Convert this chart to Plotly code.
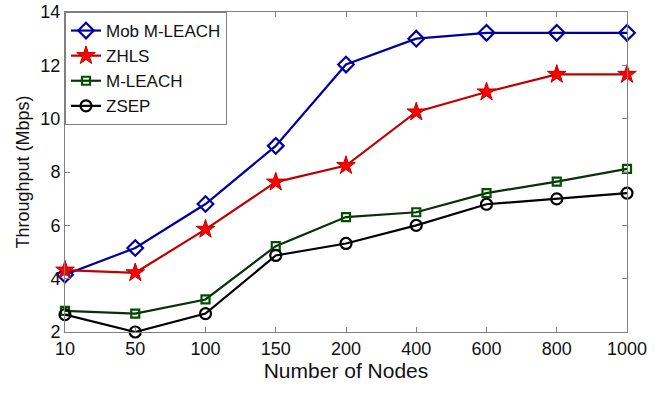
import plotly.graph_objects as go

nodes = ["10", "50", "100", "150", "200", "400", "600", "800", "1000"]
mob_mleach = [4.15, 5.15, 6.8, 8.98, 12.03, 13.0, 13.22, 13.22, 13.22]
zhls = [4.32, 4.22, 5.85, 7.62, 8.24, 10.25, 11.0, 11.66, 11.66]
mleach = [2.79, 2.69, 3.22, 5.22, 6.31, 6.49, 7.21, 7.64, 8.12]
zsep = [2.65, 2.0, 2.69, 4.87, 5.32, 6.0, 6.79, 6.99, 7.21]

xi = list(range(len(nodes)))

series = [
    ("Mob M-LEACH", mob_mleach, "#0000a0", "diamond-open", 12, "#0000a0", None),
    ("ZHLS", zhls, "#c00000", "star", 14, "#ff0000", "#c00000"),
    ("M-LEACH", mleach, "#0a300a", "square-open", 8, "#005000", None),
    ("ZSEP", zsep, "#000000", "circle-open", 11, "#000000", None),
]

fig = go.Figure()
for name, vals, lc, sym, size, mc, edge in series:
    marker = dict(symbol=sym, size=size, color=mc)
    if sym.endswith("-open"):
        marker["line"] = dict(width=2.2, color=mc)
    else:
        marker["line"] = dict(width=1, color=edge)
    fig.add_trace(go.Scatter(
        x=xi, y=vals, name=name, mode="lines+markers",
        line=dict(color=lc, width=2.2), marker=marker, cliponaxis=False,
    ))

axis_common = dict(
    showline=True, linecolor="#808080", linewidth=1, mirror="ticks",
    ticks="inside", ticklen=5, tickcolor="#808080", showgrid=False, zeroline=False,
    tickfont=dict(family="Liberation Sans, Arial", size=18, color="#111111"),
)

fig.update_layout(
    width=667, height=393,
    margin=dict(l=65, r=40, t=12, b=61, autoexpand=False),
    paper_bgcolor="white", plot_bgcolor="white",
    font=dict(family="Liberation Sans, Arial", size=18, color="#111111"),
    xaxis=dict(
        **axis_common,
        tickmode="array", tickvals=xi, ticktext=nodes,
        range=[0, len(nodes) - 1],
        title=dict(text="Number of Nodes", font=dict(size=21), standoff=2),
    ),
    yaxis=dict(
        **axis_common,
        range=[2, 14], tickvals=[2, 4, 6, 8, 10, 12, 14],
        title=dict(text="Throughput (Mbps)", font=dict(size=18), standoff=6),
    ),
    legend=dict(
        x=0, y=1, xanchor="left", yanchor="top",
        bordercolor="#808080", borderwidth=1, bgcolor="white",
        font=dict(size=17), itemwidth=30, tracegroupgap=0,
    ),
    showlegend=True,
)

fig.write_html("out.html")
